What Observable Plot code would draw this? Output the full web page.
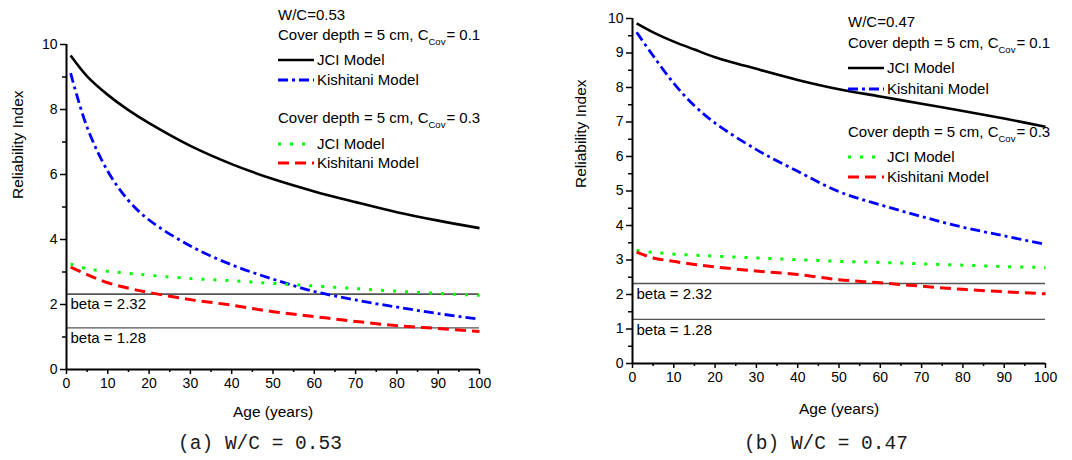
<!DOCTYPE html>
<html><head><meta charset="utf-8">
<script src="https://cdn.jsdelivr.net/npm/d3@7"></script>
<script src="https://cdn.jsdelivr.net/npm/@observablehq/plot@0.6"></script>
<style>
body{margin:0;background:#fff;}
#wrap{position:relative;width:1072px;height:460px;overflow:hidden;font-family:"Liberation Sans",Arial,sans-serif;}
.panel{position:absolute;top:0;}
.leg{position:absolute;font-size:15px;line-height:18px;height:18px;color:#000;white-space:nowrap;}
.leg svg{vertical-align:middle;margin-right:3px;position:relative;top:-1px;}
.leg .sub{font-size:9.5px;position:relative;top:5px;margin-right:1px;}
.cap{position:absolute;top:433px;font-family:"Liberation Mono",monospace;font-size:19.5px;line-height:22px;color:#1a1a1a;transform:translateX(-50%);white-space:nowrap;}
</style></head><body><div id="wrap"></div>
<script>
// ---------- data ----------
const ages = [1, 5, 10, 15, 20, 30, 40, 50, 60, 70, 80, 90, 100];

// Panel (a) W/C = 0.53
const a_jci_01  = [9.66, 9.02, 8.45, 7.98, 7.58, 6.88, 6.32, 5.86, 5.48, 5.15, 4.84, 4.58, 4.35];
const a_kis_01  = [9.12, 7.45, 6.10, 5.20, 4.60, 3.80, 3.22, 2.78, 2.40, 2.14, 1.92, 1.72, 1.55];
const a_jci_03  = [3.25, 3.10, 3.02, 2.96, 2.90, 2.80, 2.73, 2.65, 2.57, 2.49, 2.41, 2.34, 2.28];
const a_kis_03  = [3.15, 2.92, 2.67, 2.50, 2.37, 2.15, 1.98, 1.78, 1.63, 1.48, 1.35, 1.26, 1.17];

// Panel (b) W/C = 0.47
const b_jci_01  = [9.86, 9.60, 9.33, 9.10, 8.88, 8.54, 8.22, 7.95, 7.74, 7.53, 7.32, 7.10, 6.86];
const b_kis_01  = [9.60, 8.92, 8.12, 7.47, 6.97, 6.20, 5.57, 4.98, 4.60, 4.26, 3.95, 3.70, 3.45];
const b_jci_03  = [3.28, 3.22, 3.17, 3.14, 3.11, 3.06, 3.01, 2.96, 2.93, 2.89, 2.85, 2.81, 2.78];
const b_kis_03  = [3.23, 3.06, 2.96, 2.87, 2.80, 2.68, 2.58, 2.43, 2.34, 2.24, 2.15, 2.08, 2.02];

const betas = [2.32, 1.28];
const betaLabels = ["beta = 2.32", "beta = 1.28"];

const xMajor = [0, 10, 20, 30, 40, 50, 60, 70, 80, 90, 100];
const xMinor = [5, 15, 25, 35, 45, 55, 65, 75, 85, 95];
const aYMajor = [0, 2, 4, 6, 8, 10];
const aYMinor = [1, 3, 5, 7, 9];
const bYMajor = [0, 1, 2, 3, 4, 5, 6, 7, 8, 9, 10];
const bYMinor = [0.5, 1.5, 2.5, 3.5, 4.5, 5.5, 6.5, 7.5, 8.5, 9.5];

const modelNames = ["JCI Model", "Kishitani Model", "JCI Model", "Kishitani Model"];
const titlesA = ["W/C=0.53", "0.1", "0.3"];
const titlesB = ["W/C=0.47", "0.1", "0.3"];
const xLabel = "Age (years)";
const yLabel = "Reliability Index";
const captions = ["(a) W/C = 0.53", "(b) W/C = 0.47"];

// ---------- styles ----------
const styles = [
  {stroke: "#000000", dash: null, width: 2.6},
  {stroke: "#0000ff", dash: "10,4,3,4", width: 2.8},
  {stroke: "#00ff00", dash: "3,9", width: 3},
  {stroke: "#ff0000", dash: "11,6", width: 3}
];

const wrap = document.getElementById("wrap");

function panel(left, cfg) {
  const marks = [
    Plot.ruleY(betas, {y: d => d, stroke: "#555", strokeWidth: (d, i) => i === 0 ? 1.6 : 1.1}),
    Plot.text(betas, {y: d => d, text: (d, i) => betaLabels[i], frameAnchor: "left", textAnchor: "start", dx: cfg.betaDx, dy: cfg.betaDy, fontSize: 15, fill: "#000"}),
  ];
  cfg.series.forEach((vals, k) => {
    const rows = ages.map((a, i) => ({age: a, v: vals[i]}));
    const s = styles[k];
    marks.push(Plot.line(rows, {x: "age", y: "v", stroke: s.stroke, strokeWidth: s.width, strokeDasharray: s.dash, curve: "catmull-rom", strokeLinecap: "butt"}));
  });
  marks.push(
    Plot.axisX({ticks: xMajor, tickSize: 5, tickPadding: 4, strokeWidth: 1.5, fontSize: 14, label: null}),
    Plot.axisX({ticks: xMinor, tickSize: 3, tickFormat: () => "", strokeWidth: 1.5, label: null}),
    Plot.axisY({ticks: cfg.yMajor, tickSize: 6, tickPadding: 3, strokeWidth: 1.5, fontSize: 14, label: null}),
    Plot.axisY({ticks: cfg.yMinor, tickSize: 4, tickFormat: () => "", strokeWidth: 1.5, label: null}),
    Plot.text([xLabel], {frameAnchor: "bottom", dy: cfg.xLabelDy, fontSize: 15.5, fill: "#000"}),
    Plot.text([yLabel], {frameAnchor: "left", rotate: -90, dx: -cfg.yLabelDx, dy: cfg.yLabelDy, fontSize: 15.5, fill: "#000"}),
    Plot.ruleX([0], {stroke: "#000", strokeWidth: 2}),
    Plot.ruleY([0], {stroke: "#000", strokeWidth: 2})
  );
  const chart = Plot.plot({
    width: 536, height: 425,
    marginLeft: cfg.ml, marginRight: cfg.mr, marginTop: cfg.mt, marginBottom: cfg.mb,
    x: {domain: [0, 100]},
    y: {domain: [0, 10]},
    style: {fontFamily: '"Liberation Sans", Arial, sans-serif', fontSize: "15px", color: "#000", background: "transparent", overflow: "visible"},
    marks
  });
  chart.classList.add("panel");
  chart.style.left = left + "px";
  wrap.appendChild(chart);
}

panel(0, {series: [a_jci_01, a_kis_01, a_jci_03, a_kis_03], ml: 66, mr: 57, mt: 44, mb: 56,
  yMajor: aYMajor, yMinor: aYMinor, xLabelDy: 47, yLabelDx: 48, yLabelDy: -8, betaDx: 4, betaDy: 10});
panel(536, {series: [b_jci_01, b_kis_01, b_jci_03, b_kis_03], ml: 96, mr: 27, mt: 18, mb: 62,
  yMajor: bYMajor, yMinor: bYMinor, xLabelDy: 50, yLabelDx: 51, yLabelDy: -3, betaDx: 4, betaDy: 11});

// ---------- legends ----------
function sample(k) {
  const s = styles[k];
  return `<svg width="36" height="10"><line x1="0" y1="5" x2="36" y2="5" stroke="${s.stroke}" stroke-width="${s.width}" ${s.dash ? `stroke-dasharray="${s.dash}"` : ""}/></svg>`;
}
function legend(x, centers, titles) {
  const items = [
    titles[0],
    `Cover depth = 5 cm, C<span class="sub">Cov</span>= ${titles[1]}`,
    sample(0) + modelNames[0],
    sample(1) + modelNames[1],
    `Cover depth = 5 cm, C<span class="sub">Cov</span>= ${titles[2]}`,
    sample(2) + modelNames[2],
    sample(3) + modelNames[3]
  ];
  items.forEach((h, i) => {
    const d = document.createElement("div");
    d.className = "leg";
    d.style.left = x + "px";
    d.style.top = (centers[i] - 9) + "px";
    d.innerHTML = h;
    wrap.appendChild(d);
  });
}
legend(278, [15, 35, 60, 80, 118, 144, 163], titlesA);
legend(848, [22, 43, 68, 89, 132, 157, 177], titlesB);

// ---------- captions ----------
[[260, captions[0]], [826, captions[1]]].forEach(([cx, t]) => {
  const d = document.createElement("div");
  d.className = "cap";
  d.style.left = cx + "px";
  d.textContent = t;
  wrap.appendChild(d);
});
</script></body></html>
